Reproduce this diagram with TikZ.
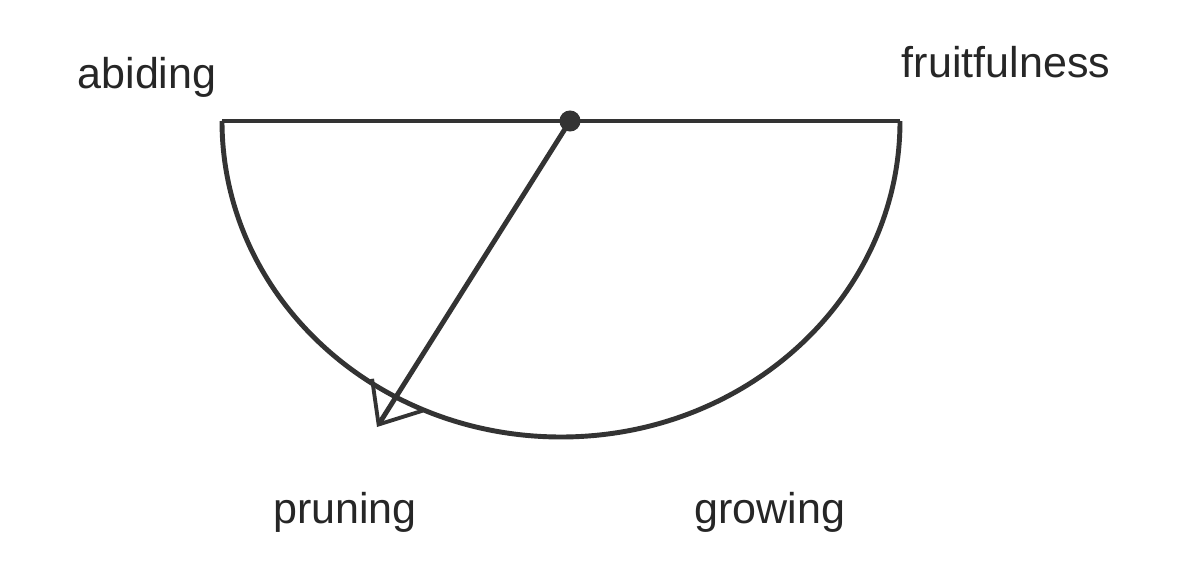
\documentclass[tikz,border=0pt]{standalone}
\usepackage{fontspec}
\setmainfont{Liberation Sans}
\usetikzlibrary{arrows.meta}

\begin{document}
\begin{tikzpicture}[x=0.02cm,y=0.02cm,font=\fontsize{24.5}{28}\selectfont,
  stroke/.style={line width=2.8pt,draw=black!80},
  word/.style={text=black!85,inner sep=0pt}]
\useasboundingbox (0,0) rectangle (1192,585);
\coordinate (left) at (222,464);
\coordinate (right) at (900,464);
\coordinate (tip) at (377,158);
\node[circle,fill=black!80,inner sep=0pt,minimum size=12pt] (dot) at (570,464) {};
\draw[stroke] (left) -- (right);
\draw[stroke] (left) arc[start angle=180,end angle=360,x radius=339,y radius=316];
\draw[stroke,-{Straight Barb[length=20pt,width=34pt,line width=2.2pt]}] (dot.center) -- (tip);
\node[word] (abiding) at (147,508) {abiding};
\node[word] (fruitfulness) at (1006,523) {fruitfulness};
\node[word] (pruning) at (345,73) {pruning};
\node[word] (growing) at (770,73) {growing};
\end{tikzpicture}
\end{document}
